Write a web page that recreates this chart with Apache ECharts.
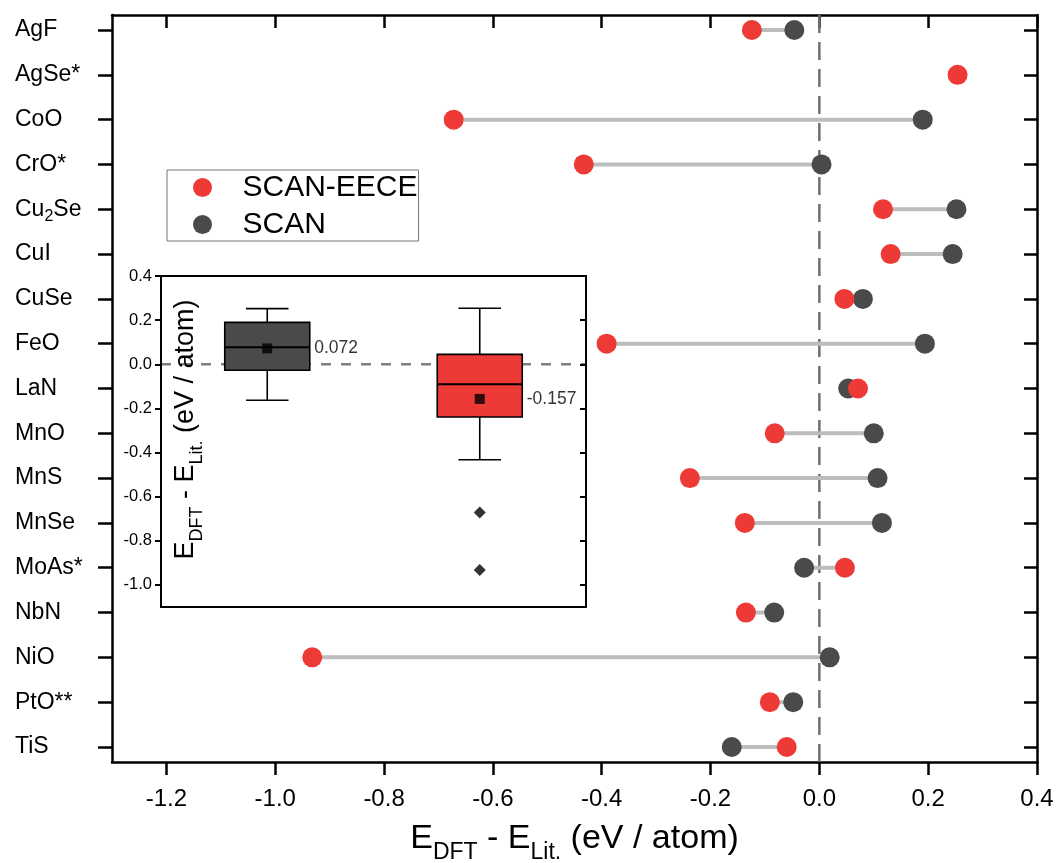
<!DOCTYPE html>
<html>
<head>
<meta charset="utf-8">
<script src="https://cdn.jsdelivr.net/npm/echarts@6/dist/echarts.min.js"></script>
<style>
  html, body { margin: 0; padding: 0; background: #fff; }
  #chart { width: 1057px; height: 863px; }
</style>
</head>
<body>
<div id="chart"></div>
<script>
// Formation-energy deviations per compound (eV / atom)
const compounds = ['AgF', 'AgSe*', 'CoO', 'CrO*', 'Cu2Se', 'CuI', 'CuSe', 'FeO', 'LaN',
  'MnO', 'MnS', 'MnSe', 'MoAs*', 'NbN', 'NiO', 'PtO**', 'TiS'];
const scanEece = [-0.124, 0.254, -0.672, -0.433, 0.117, 0.131, 0.046, -0.391, 0.071,
  -0.082, -0.238, -0.137, 0.047, -0.135, -0.932, -0.091, -0.060];
const scan = [-0.046, null, 0.190, 0.004, 0.252, 0.245, 0.080, 0.194, 0.053,
  0.100, 0.107, 0.115, -0.028, -0.083, 0.019, -0.048, -0.161];
const xTicks = [-1.2, -1.0, -0.8, -0.6, -0.4, -0.2, 0, 0.2, 0.4];

// Box-plot summary: [lower whisker, Q1, median, Q3, upper whisker]
const boxGroups = ['SCAN', 'SCAN-EECE'];
const boxScan = [-0.163, -0.027, 0.077, 0.190, 0.252];
const boxEece = [-0.433, -0.239, -0.090, 0.045, 0.254];
const boxMeans = [0.072, -0.157];
const eeceOutliers = [-0.672, -0.932];
const insetTicks = [-1.0, -0.8, -0.6, -0.4, -0.2, 0, 0.2, 0.4];

const RED = '#ee3a37';
const DARK = '#4a4a4a';
const FONT = 'Liberation Sans, Arial, sans-serif';
const yIdx = compounds.map((_, i) => i);

function subLabel(name) {
  return '{n|' + name.replace(/(\d)/g, '}{s|$1}{n|') + '}';
}
const energyTitle = '{n|E}{s|DFT}{n| - E}{s|Lit.}{n| (eV / atom)}';

const chart = echarts.init(document.getElementById('chart'), null, { renderer: 'canvas' });

const mainLine = { show: true, onZero: false, lineStyle: { color: '#000', width: 2.5 } };
const insetLine = { show: true, onZero: false, lineStyle: { color: '#000', width: 2 } };

const option = {
  animation: false,
  backgroundColor: '#fff',
  textStyle: { fontFamily: FONT, color: '#000' },
  legend: {
    data: ['SCAN-EECE', 'SCAN'],
    orient: 'vertical',
    left: 167, top: 170,
    icon: 'circle',
    itemWidth: 70, itemHeight: 19, itemGap: 4,
    padding: [1, 1, 0, 26],
    borderColor: '#777', borderWidth: 1,
    backgroundColor: '#fff',
    textStyle: { fontSize: 30, lineHeight: 33, color: '#000', fontFamily: FONT },
    selectedMode: false
  },
  grid: [
    { left: 112, right: 20, top: 15, bottom: 101, containLabel: false, outerBoundsMode: 'none' },
    { left: 161, top: 276, width: 425, height: 331, show: true, backgroundColor: '#fff', borderWidth: 0, z: 5, outerBoundsMode: 'none' }
  ],
  xAxis: [
    {
      type: 'value', gridIndex: 0, position: 'bottom', min: -1.3, max: 0.4,
      axisLine: mainLine,
      axisTick: { show: true, customValues: xTicks, length: 13, lineStyle: { color: '#000', width: 2.5 } },
      axisLabel: { customValues: xTicks, formatter: v => v.toFixed(1), fontSize: 24, margin: 25, color: '#000', fontFamily: FONT },
      splitLine: { show: false },
      name: energyTitle, nameLocation: 'middle', nameGap: 51,
      nameTextStyle: {
        fontFamily: FONT, color: '#000',
        rich: {
          n: { fontSize: 34, lineHeight: 51, fontFamily: FONT, color: '#000' },
          s: { fontSize: 23, lineHeight: 23, verticalAlign: 'bottom', fontFamily: FONT, color: '#000' }
        }
      }
    },
    {
      type: 'value', gridIndex: 0, position: 'top', min: -1.3, max: 0.4,
      axisLine: mainLine,
      axisTick: { show: true, inside: true, customValues: xTicks, length: 13, lineStyle: { color: '#000', width: 2.5 } },
      axisLabel: { show: false },
      splitLine: { show: false }
    },
    {
      type: 'category', gridIndex: 1, position: 'bottom', data: boxGroups, boundaryGap: true, z: 12,
      axisLine: insetLine,
      axisTick: { show: false }, axisLabel: { show: false }, splitLine: { show: false }
    },
    {
      type: 'category', gridIndex: 1, position: 'top', data: boxGroups, boundaryGap: true, z: 12,
      axisLine: insetLine,
      axisTick: { show: false }, axisLabel: { show: false }, splitLine: { show: false }
    }
  ],
  yAxis: [
    {
      type: 'value', gridIndex: 0, position: 'left', inverse: true, min: -0.335, max: 16.335,
      axisLine: mainLine,
      axisTick: { show: true, customValues: yIdx, length: 14, lineStyle: { color: '#000', width: 2.5 } },
      axisLabel: {
        customValues: yIdx, align: 'left', margin: 97,
        formatter: v => subLabel(compounds[Math.round(v)]),
        rich: {
          n: { fontSize: 23, lineHeight: 30, color: '#000', fontFamily: FONT },
          s: { fontSize: 16, lineHeight: 16, verticalAlign: 'bottom', color: '#000', fontFamily: FONT }
        }
      },
      splitLine: { show: false }
    },
    {
      type: 'value', gridIndex: 0, position: 'right', inverse: true, min: -0.335, max: 16.335,
      axisLine: mainLine,
      axisTick: { show: true, inside: true, customValues: yIdx, length: 13, lineStyle: { color: '#000', width: 2.5 } },
      axisLabel: { show: false },
      splitLine: { show: false }
    },
    {
      type: 'value', gridIndex: 1, position: 'left', min: -1.1, max: 0.4, z: 12,
      axisLine: insetLine,
      axisTick: { show: true, customValues: insetTicks, length: 6, lineStyle: { color: '#000', width: 2 } },
      axisLabel: { customValues: insetTicks, formatter: v => v.toFixed(1), fontSize: 16.5, margin: 9, color: '#000', fontFamily: FONT },
      splitLine: { show: false },
      name: energyTitle, nameLocation: 'middle', nameRotate: 90, nameGap: -45,
      nameTextStyle: {
        fontFamily: FONT, color: '#000',
        padding: [0, 0, 0, 24],
        rich: {
          n: { fontSize: 27, lineHeight: 40, fontFamily: FONT, color: '#000' },
          s: { fontSize: 18, lineHeight: 18, verticalAlign: 'bottom', fontFamily: FONT, color: '#000' }
        }
      }
    },
    {
      type: 'value', gridIndex: 1, position: 'right', min: -1.1, max: 0.4, z: 12,
      axisLine: insetLine,
      axisTick: { show: true, inside: true, customValues: insetTicks, length: 6, lineStyle: { color: '#000', width: 2 } },
      axisLabel: { show: false },
      splitLine: { show: false }
    }
  ],
  series: [
    // vertical reference line at zero
    {
      type: 'custom', xAxisIndex: 0, yAxisIndex: 0, z: 1, silent: true,
      data: [[0, 0]], encode: { x: 0, y: 1 },
      renderItem: (params, api) => {
        const x = api.coord([api.value(0), 0])[0];
        const cs = params.coordSys;
        return {
          type: 'line',
          shape: { x1: x, y1: cs.y, x2: x, y2: cs.y + cs.height },
          style: { stroke: '#707070', lineWidth: 2.5, lineDash: [18, 9] }
        };
      }
    },
    // connectors between the two methods
    {
      type: 'custom', xAxisIndex: 0, yAxisIndex: 0, z: 2, silent: true,
      data: compounds.map((c, i) => [i, scanEece[i], scan[i]]).filter(d => d[1] != null && d[2] != null),
      encode: { x: [1, 2], y: 0 },
      renderItem: (params, api) => {
        const i = api.value(0);
        const a = api.coord([api.value(1), i]);
        const b = api.coord([api.value(2), i]);
        return {
          type: 'line',
          shape: { x1: a[0], y1: a[1], x2: b[0], y2: b[1] },
          style: { stroke: '#bdbdbd', lineWidth: 4 }
        };
      }
    },
    {
      name: 'SCAN', type: 'scatter', xAxisIndex: 0, yAxisIndex: 0, z: 3,
      symbol: 'circle', symbolSize: 20,
      itemStyle: { color: DARK, opacity: 1 },
      data: scan.map((v, i) => [v, i]).filter(d => d[0] != null)
    },
    {
      name: 'SCAN-EECE', type: 'scatter', xAxisIndex: 0, yAxisIndex: 0, z: 4,
      symbol: 'circle', symbolSize: 20,
      itemStyle: { color: RED, opacity: 1 },
      data: scanEece.map((v, i) => [v, i])
    },
    // inset: dashed zero line
    {
      type: 'custom', xAxisIndex: 2, yAxisIndex: 2, z: 9, silent: true,
      data: [[0, 0]], encode: { x: 0, y: 1 },
      renderItem: (params, api) => {
        const y = api.coord([0, api.value(1)])[1];
        const cs = params.coordSys;
        return {
          type: 'line',
          shape: { x1: cs.x, y1: y, x2: cs.x + cs.width, y2: y },
          style: { stroke: '#808080', lineWidth: 2.5, lineDash: [10, 10] }
        };
      }
    },
    // inset: boxes and whiskers
    {
      type: 'custom', xAxisIndex: 2, yAxisIndex: 2, z: 10, silent: true,
      data: [[0].concat(boxScan), [1].concat(boxEece)],
      encode: { x: 0, y: [1, 2, 3, 4, 5] },
      renderItem: (params, api) => {
        const idx = api.value(0);
        const lo = api.value(1), q1 = api.value(2), med = api.value(3), q3 = api.value(4), hi = api.value(5);
        const bw = api.size([1, 0])[0] * 0.4;
        const cx = api.coord([idx, med])[0];
        const y = v => api.coord([idx, v])[1];
        const ln = { stroke: '#000', lineWidth: 1.6 };
        const cap = bw / 4;
        return {
          type: 'group',
          children: [
            { type: 'line', shape: { x1: cx, y1: y(hi), x2: cx, y2: y(q3) }, style: ln },
            { type: 'line', shape: { x1: cx, y1: y(q1), x2: cx, y2: y(lo) }, style: ln },
            { type: 'line', shape: { x1: cx - cap, y1: y(hi), x2: cx + cap, y2: y(hi) }, style: ln },
            { type: 'line', shape: { x1: cx - cap, y1: y(lo), x2: cx + cap, y2: y(lo) }, style: ln },
            {
              type: 'rect',
              shape: { x: cx - bw / 2, y: y(q3), width: bw, height: y(q1) - y(q3) },
              style: { fill: idx === 0 ? DARK : RED, stroke: '#000', lineWidth: 1.6 }
            },
            { type: 'line', shape: { x1: cx - bw / 2, y1: y(med), x2: cx + bw / 2, y2: y(med) }, style: { stroke: '#000', lineWidth: 2 } }
          ]
        };
      }
    },
    // inset: means with value labels
    {
      type: 'scatter', xAxisIndex: 2, yAxisIndex: 2, z: 11, silent: true,
      symbol: 'rect', symbolSize: 10,
      itemStyle: { color: '#000' },
      label: {
        show: true, position: 'right', distance: 42,
        formatter: p => p.value[1].toFixed(3),
        fontSize: 17.5, color: '#000', fontFamily: FONT
      },
      data: boxMeans.map((m, i) => [i, m])
    },
    // inset: outliers
    {
      type: 'scatter', xAxisIndex: 2, yAxisIndex: 2, z: 11, silent: true,
      symbol: 'diamond', symbolSize: 12,
      itemStyle: { color: '#000' },
      data: eeceOutliers.map(v => [1, v])
    }
  ],
  graphic: [
    {
      type: 'group', left: 292, top: 515, z: 20,
      children: [
        { type: 'rect', shape: { x: 0, y: 0, width: 161, height: 85 }, style: { fill: '#fff', stroke: '#777', lineWidth: 1 } },
        { type: 'rect', shape: { x: 2, y: 6, width: 31, height: 12 }, style: { fill: DARK, stroke: '#000', lineWidth: 1 } },
        { type: 'line', shape: { x1: 13, y1: 22, x2: 23, y2: 22 }, style: { stroke: '#000', lineWidth: 1.5 } },
        { type: 'line', shape: { x1: 18, y1: 22, x2: 18, y2: 35 }, style: { stroke: '#000', lineWidth: 1.5 } },
        { type: 'line', shape: { x1: 12, y1: 35, x2: 24, y2: 35 }, style: { stroke: '#000', lineWidth: 1.5 } },
        { type: 'line', shape: { x1: 9, y1: 46, x2: 27, y2: 46 }, style: { stroke: '#000', lineWidth: 2 } },
        { type: 'rect', shape: { x: 13, y: 56, width: 11, height: 11 }, style: { fill: '#000' } },
        { type: 'polygon', shape: { points: [[18, 76], [21, 79], [18, 82], [15, 79]] }, style: { fill: '#000' } },
        { type: 'text', x: 37, y: 12, style: { text: '25%~75%', fontSize: 13, fontFamily: FONT, fill: '#000', verticalAlign: 'middle' } },
        { type: 'text', x: 37, y: 29, style: { text: 'Range within 1.5IQR', fontSize: 13, fontFamily: FONT, fill: '#000', verticalAlign: 'middle' } },
        { type: 'text', x: 37, y: 46, style: { text: 'Median Line', fontSize: 13, fontFamily: FONT, fill: '#000', verticalAlign: 'middle' } },
        { type: 'text', x: 37, y: 62, style: { text: 'Mean', fontSize: 13, fontFamily: FONT, fill: '#000', verticalAlign: 'middle' } },
        { type: 'text', x: 37, y: 78, style: { text: 'Outliers', fontSize: 13, fontFamily: FONT, fill: '#000', verticalAlign: 'middle' } }
      ]
    }
  ]
};

chart.setOption(option);
</script>
</body>
</html>
